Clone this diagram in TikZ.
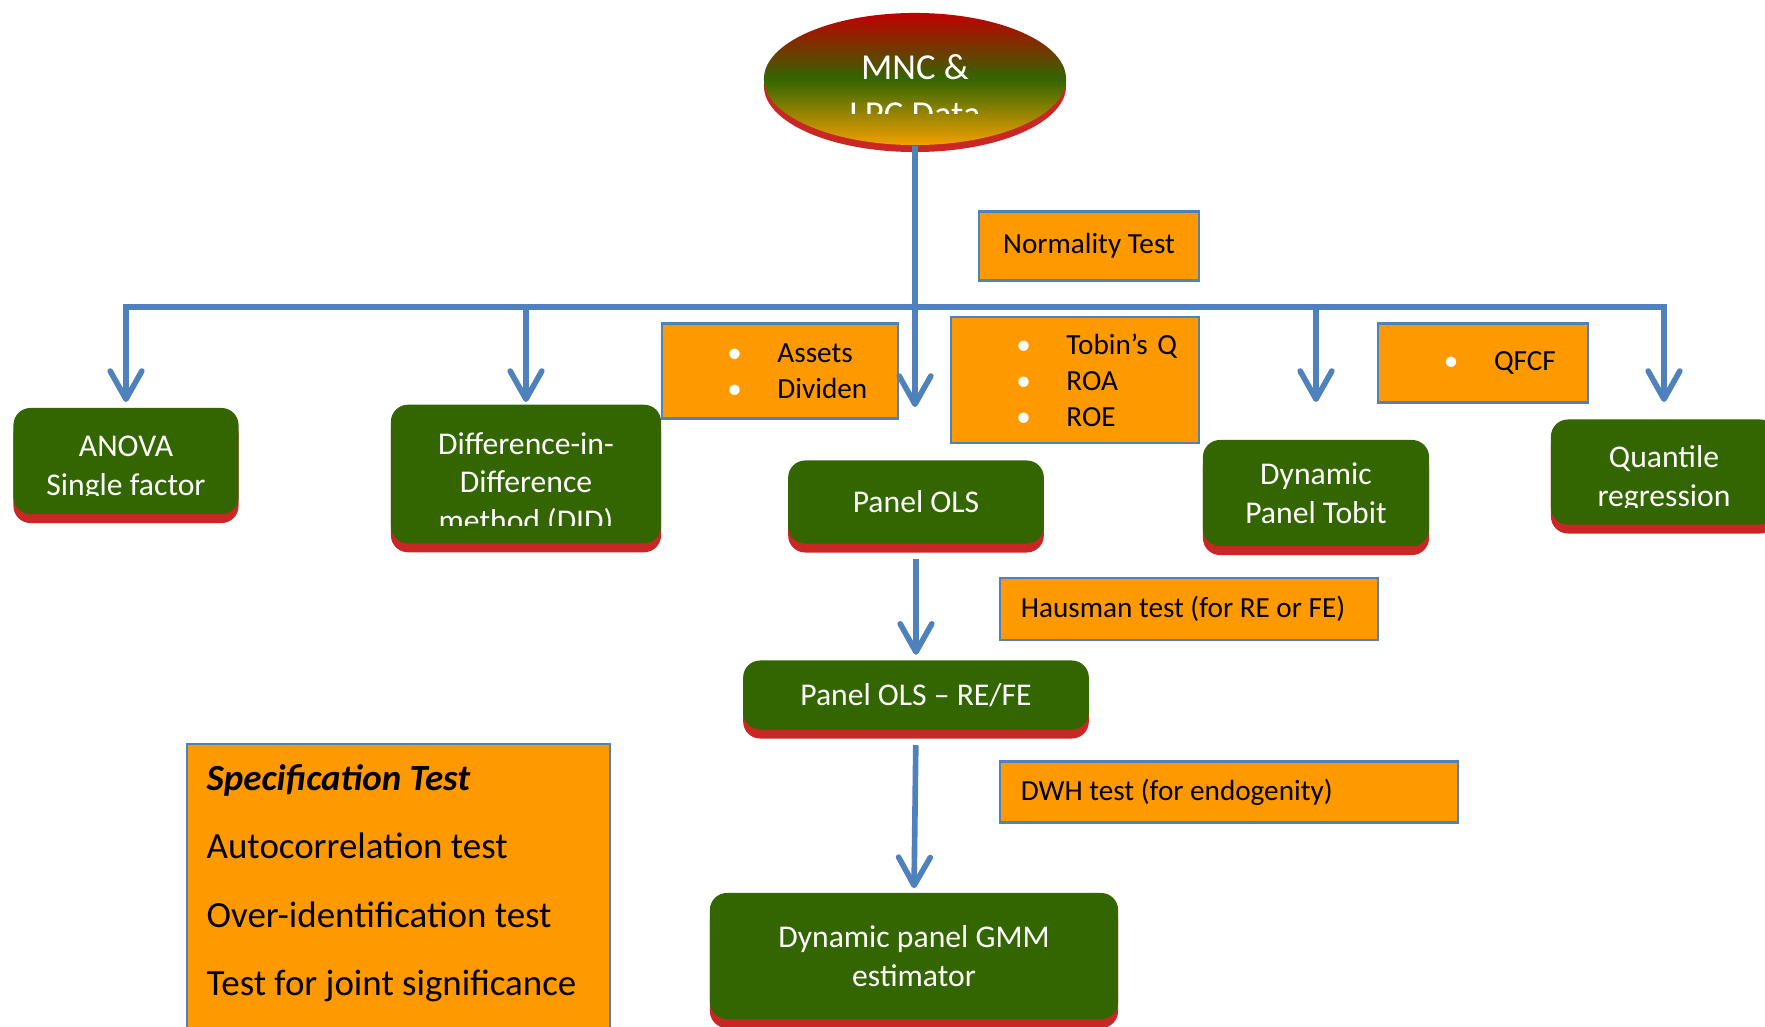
\documentclass[tikz,border=0pt]{standalone}
\usepackage{fontspec}
\setmainfont{Carlito}
\usetikzlibrary{arrows.meta,shadows,shapes.geometric}

\definecolor{boxgreen}{HTML}{336600}
\definecolor{boxorange}{HTML}{FF9900}
\definecolor{flowblue}{HTML}{4F81BD}
\definecolor{shadered}{HTML}{C00000}
\definecolor{lowgold}{HTML}{F2A000}

\newcommand{\wbul}{\hspace*{0.655cm}\makebox[0.5cm][l]{\textcolor{white}{\textbullet}}}

\begin{document}
\begin{tikzpicture}[
        x                  = 0.01cm,
        y                  = -0.01cm,
        greenbox/.style    = {fill=boxgreen, rounded corners=0.17cm, text=white, align=center,
                              font=\fontsize{9}{11}\selectfont,
                              drop shadow={shadow xshift=0cm, shadow yshift=-0.09cm, fill=shadered, opacity=0.85}},
        greentext/.style   = {text=white, align=center, inner sep=0pt, font=\fontsize{9}{11}\selectfont},
        orangebox/.style   = {draw=flowblue, line width=0.6pt, fill=boxorange, inner sep=0pt,
                              font=\fontsize{8.3}{10.2}\selectfont},
        flow/.style        = {draw=flowblue, line width=1.6pt, -{Straight Barb[length=8pt, width=9pt, round]}},
      ]
        \useasboundingbox (0,0) rectangle (1765,1027);

        % data source
        \node[ellipse, minimum width=3.02cm, minimum height=1.32cm,
              top color=shadered, bottom color=lowgold, middle color=boxgreen,
              drop shadow={shadow xshift=0cm, shadow yshift=-0.07cm, fill=shadered, opacity=0.85}] (mnc) at (915,79) {};
        \begin{scope}
            \clip (760,20) rectangle (1070,113);
            \node[greentext, font=\fontsize{10.4}{13.4}\selectfont] (mnctext) at (915,91) {MNC \&\\LPC Data};
        \end{scope}

        % first row of methods
        \node[greenbox, minimum width=2.25cm, minimum height=1.06cm] (anova) at (126,461) {};
        \node[greenbox, minimum width=2.70cm, minimum height=1.385cm] (did) at (526,474) {};
        \node[greenbox, minimum width=2.555cm, minimum height=0.83cm] (ols) at (916,502) {Panel OLS};
        \node[greenbox, minimum width=2.26cm, minimum height=1.06cm] (tobit) at (1316,493) {Dynamic\\Panel Tobit};
        \node[greenbox, minimum width=2.26cm, minimum height=1.05cm] (quant) at (1664,472) {};
        \begin{scope}
            \clip (20,420) rectangle (232,495);
            \node[greentext] (anovatext) at (126,468.5) {ANOVA\\Single factor};
        \end{scope}
        \begin{scope}
            \clip (400,415) rectangle (652,525);
            \node[greentext] (didtext) at (526,484) {Difference-in-\\Difference\\method (DID)};
        \end{scope}
        \begin{scope}
            \clip (1558,430) rectangle (1765,507);
            \node[greentext] (quanttext) at (1664,479) {Quantile\\regression};
        \end{scope}

        % variables and tests
        \node[orangebox, minimum width=2.20cm, minimum height=0.69cm] (normal) at (1089,246) {Normality Test};
        \node[orangebox, text width=2.36cm, minimum height=0.95cm, align=left] (assets) at (780,371) {\wbul Assets\\\wbul Dividen};
        \node[orangebox, text width=2.48cm, minimum height=1.26cm, align=left] (ratios) at (1075,380) {\wbul Tobin’s Q\\\wbul ROA\\\wbul ROE};
        \node[orangebox, text width=2.09cm, minimum height=0.79cm, align=left] (qfcf) at (1483,363) {\wbul QFCF};

        % panel chain
        \node[greenbox, minimum width=3.455cm, minimum height=0.69cm] (refe) at (916,695) {Panel OLS -- RE/FE};
        \node[orangebox, inner xsep=0.21cm, minimum height=0.62cm] (hausman) at (1189,609)
            {\makebox[3.36cm][l]{Hausman test (for RE or FE)}};
        \node[orangebox, inner xsep=0.21cm, minimum height=0.61cm] (dwh) at (1229,792)
            {\makebox[4.16cm][l]{DWH test (for endogenity)}};
        \node[greenbox, minimum width=4.08cm, minimum height=1.26cm] (gmm) at (914,956) {Dynamic panel GMM\\estimator};

        \node[orangebox, anchor=north west, minimum width=4.23cm, minimum height=3.2cm] (spec) at (186,743) {};
        \node[anchor=north west, align=left, inner sep=0pt, font=\fontsize{10.5}{19.4}\selectfont] (spectext) at (206,764)
            {\textbf{\textit{Specification Test}}\\Autocorrelation test\\Over-identification test\\Test for joint significance};

        % connectors
        \coordinate (bar) at (915,307);
        \coordinate (tipline) at (0,402);
        \coordinate (midtip) at (915,407);
        \draw[flow] (mnc.south) -- (midtip);
        \draw[flow] (bar) -| (anova.north |- tipline);
        \draw[flow] (bar) -| (did.north |- tipline);
        \draw[flow] (bar) -| (tobit.north |- tipline);
        \draw[flow] (bar) -| (quant.north |- tipline);
        \draw[flow, shorten <=0.15cm, shorten >=0.05cm] (ols.south) -- (refe.north);
        \draw[flow, shorten <=0.15cm, shorten >=0.04cm] (refe.south) -- (gmm.north);
\end{tikzpicture}
\end{document}
